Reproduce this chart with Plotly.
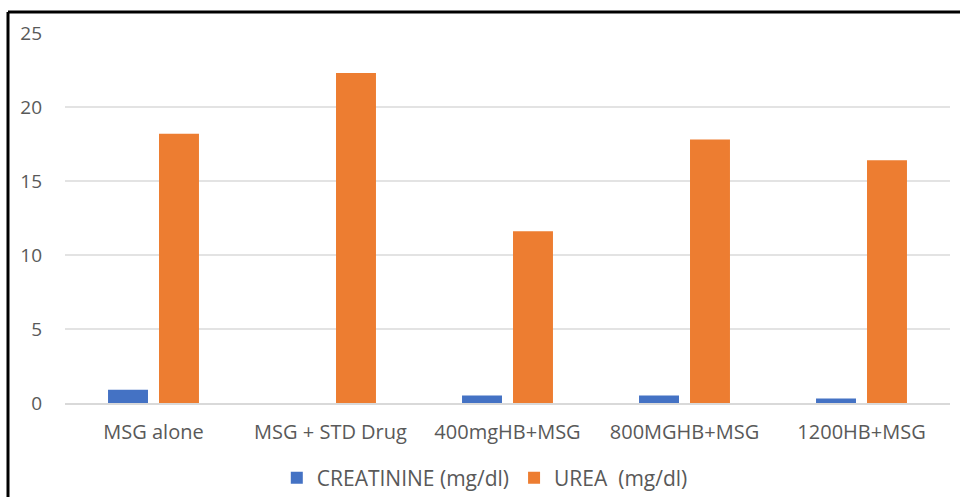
import plotly.graph_objects as go

categories = ["MSG alone", "MSG + STD Drug", "400mgHB+MSG", "800MGHB+MSG", "1200HB+MSG"]
creatinine = [0.9, 0.0, 0.5, 0.5, 0.3]
urea = [18.2, 22.3, 11.6, 17.8, 16.4]
y_ticks = [0, 5, 10, 15, 20, 25]

W, H = 960, 497
L, R, T, B = 65, 10, 33, 94
pw, ph = W - L - R, H - T - B

def px_x(p):
    return (p - L) / pw

def px_y(p):
    return (H - B - p) / ph

font_fam = "Open Sans, Liberation Sans, sans-serif"
grey = "#595959"

fig = go.Figure()
fig.add_trace(go.Bar(x=categories, y=creatinine, name="CREATININE (mg/dl)",
                     marker=dict(color="#4472C4", line=dict(width=0))))
fig.add_trace(go.Bar(x=categories, y=urea, name="UREA  (mg/dl)",
                     marker=dict(color="#ED7D31", line=dict(width=0))))

fig.update_layout(
    width=W, height=H,
    margin=dict(l=L, r=R, t=T, b=B, autoexpand=False),
    paper_bgcolor="white", plot_bgcolor="white",
    barmode="group", bargap=0.424, bargroupgap=0.216,
    font=dict(family=font_fam, color=grey, size=20),
    showlegend=True,
    legend=dict(orientation="h", x=0.505, xanchor="center", xref="container",
                y=1 - 478 / H, yanchor="middle", yref="container",
                font=dict(size=21, color=grey), itemwidth=30, traceorder="normal"),
    xaxis=dict(showgrid=False, showline=True, linecolor="#D9D9D9", linewidth=1.5,
               ticks="", tickfont=dict(size=20, color=grey), ticklabelstandoff=10,
               automargin=False),
    yaxis=dict(range=[0, 25], tickvals=y_ticks, showgrid=True, gridcolor="#E3E3E3",
               gridwidth=1.5, zeroline=False, showline=False, ticks="",
               tickfont=dict(size=19, color=grey), ticklabelstandoff=22,
               automargin=False),
    shapes=[
        dict(type="line", xref="paper", yref="paper",
             x0=px_x(8), x1=px_x(962), y0=px_y(12), y1=px_y(12),
             line=dict(color="black", width=3), layer="above"),
        dict(type="line", xref="paper", yref="paper",
             x0=px_x(8), x1=px_x(8), y0=px_y(12), y1=px_y(500),
             line=dict(color="black", width=3), layer="above"),
    ],
)

fig.write_html("out.html")
